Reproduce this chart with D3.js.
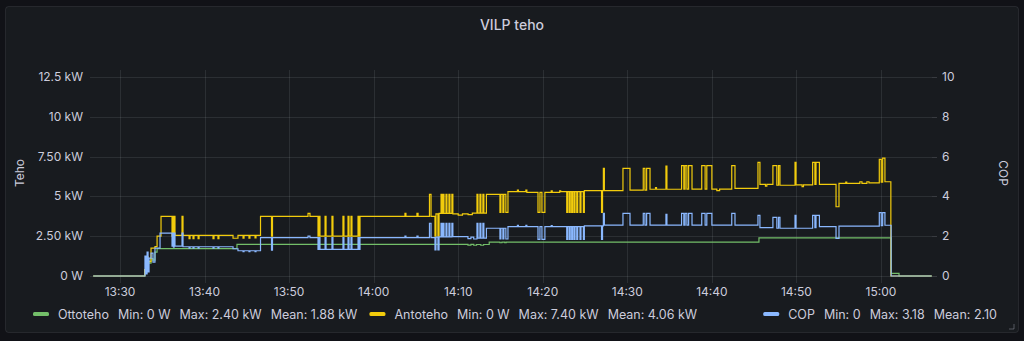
<!DOCTYPE html>
<html>
<head>
<meta charset="utf-8">
<script src="https://cdn.jsdelivr.net/npm/d3@7"></script>
<style>
  html, body { margin: 0; padding: 0; background: #111217; }
  svg { display: block; font-family: Inter, Roboto, "Noto Sans", sans-serif; }
</style>
</head>
<body>
<svg width="1024" height="341"></svg>
<script>
// series: [time, value], values hold until next point
const ottoteho = [
  ["13:26:50",0],
  ["13:32:57",0.3],["13:33:12",0.95],["13:33:26",0.8],["13:33:40",1.1],["13:33:54",1.0],["13:34:08",1.5],["13:34:23",1.72],
  ["13:43:50",1.99],
  ["14:11:09",1.94],["14:11:30",1.99],["14:11:50",1.93],["14:12:10",1.98],["14:12:40",1.93],["14:13:00",1.98],
  ["14:13:40",2.13],
  ["14:14:56",2.09],["14:15:10",2.13],["14:15:30",2.09],["14:15:40",2.13],
  ["14:45:34",2.40],
  ["15:01:12",0.17],
  ["15:02:08",0],
  ["15:06:00",0]
];

const antoteho = [
  ["13:26:50",0],
  ["13:32:55",0.4],["13:33:05",1.2],["13:33:19",0.9],["13:33:40",1.75],["13:34:08",1.85],["13:34:23",2.5],
  ["13:34:51",3.75],
  ["13:36:09",2.5],["13:36:14",3.75],["13:36:19",2.6],["13:36:24",3.75],["13:36:30",2.55],
  ["13:37:20",3.75],["13:37:27",2.55],
  ["13:38:10",2.35],["13:38:17",2.55],["13:38:38",2.35],["13:38:45",2.55],
  ["13:39:14",2.35],["13:39:21",2.55],["13:41:00",2.35],["13:41:07",2.55],
  ["13:41:35",2.35],["13:41:42",2.55],["13:43:22",2.37],["13:43:57",2.55],
  ["13:44:33",2.37],["13:44:40",2.55],["13:45:15",2.37],["13:45:22",2.55],
  ["13:45:58",2.4],["13:46:05",2.55],
  ["13:46:37",3.75],
  ["13:47:55",2.5],["13:48:02",3.75],
  ["13:52:14",3.94],["13:52:28",3.75],
  ["13:53:25",2.5],["13:53:32",3.75],["13:53:39",2.5],
  ["13:54:15",3.75],["13:54:22",2.5],["13:55:04",3.75],["13:55:11",2.5],
  ["13:56:22",3.75],["13:56:29",2.5],["13:56:58",3.75],["13:57:05",2.5],
  ["13:57:19",3.75],["13:57:26",2.5],["13:58:09",3.75],["13:58:16",2.5],
  ["13:58:23",3.75],
  ["14:03:42",3.94],["14:03:49",3.75],["14:05:07",3.94],["14:05:15",3.75],
  ["14:06:36",5.13],["14:06:47",3.75],
  ["14:07:15",2.5],["14:07:22",3.9],["14:07:36",2.5],["14:07:44",3.94],
  ["14:07:58",5.13],["14:08:05",3.94],["14:08:12",5.13],["14:08:19",3.94],
  ["14:08:33",5.13],["14:08:40",3.94],["14:08:54",5.13],["14:09:01",3.94],
  ["14:09:15",5.13],["14:09:22",3.9],
  ["14:10:00",3.82],["14:10:30",3.9],["14:11:10",3.85],["14:11:40",3.95],
  ["14:12:13",5.13],["14:12:20",3.95],["14:12:34",5.13],["14:12:41",3.95],
  ["14:12:55",5.13],["14:13:02",3.95],["14:13:20",5.13],
  ["14:14:56",4.0],["14:15:03",5.13],["14:15:17",4.0],["14:15:24",5.13],["14:15:38",4.0],
  ["14:15:53",5.3],
  ["14:17:00",5.4],["14:17:07",5.3],["14:18:00",5.4],["14:18:07",5.25],
  ["14:19:26",4.0],["14:19:40",5.25],["14:19:54",4.0],["14:20:15",5.25],
  ["14:21:00",5.35],["14:21:07",5.25],["14:22:00",5.35],["14:22:07",5.3],
  ["14:22:50",4.0],["14:22:57",5.3],["14:23:08",4.0],["14:23:15",5.3],
  ["14:23:25",4.0],["14:23:32",5.3],["14:23:42",4.0],["14:23:49",5.3],
  ["14:24:01",4.0],["14:24:08",5.3],["14:24:24",4.0],["14:24:31",5.3],
  ["14:24:48",4.0],["14:24:55",5.36],
  ["14:26:57",4.0],["14:27:04",5.36],["14:27:10",6.76],["14:27:17",5.36],
  ["14:29:29",6.76],["14:30:19",5.4],
  ["14:31:53",6.76],["14:32:05",5.4],["14:32:17",6.76],["14:32:41",5.45],
  ["14:33:20",5.55],["14:33:27",5.45],
  ["14:34:34",6.9],["14:34:41",5.45],
  ["14:36:25",6.93],["14:36:41",5.46],["14:36:50",6.93],["14:37:03",5.46],["14:37:15",6.93],["14:37:39",5.46],
  ["14:38:48",6.93],["14:39:12",5.46],["14:39:24",6.93],["14:40:00",5.46],
  ["14:40:35",5.36],["14:40:55",5.46],
  ["14:42:21",6.93],["14:42:44",5.5],
  ["14:45:27",7.14],["14:45:41",5.76],
  ["14:46:20",5.65],["14:46:30",5.76],
  ["14:47:13",6.93],["14:47:41",5.7],["14:47:53",6.93],["14:48:03",5.7],
  ["14:49:50",7.14],["14:49:57",5.72],
  ["14:50:40",5.62],["14:50:50",5.72],
  ["14:51:55",7.14],["14:52:11",5.76],["14:52:19",7.14],["14:52:43",5.76],
  ["14:54:41",4.35],["14:55:02",5.82],
  ["14:55:50",5.9],["14:55:57",5.82],
  ["14:57:30",5.92],["14:57:45",5.82],["14:58:20",5.92],["14:58:35",5.85],
  ["14:59:48",7.33],["15:00:02",5.9],["15:00:12",7.40],["15:00:28",5.92],
  ["15:01:10",0],
  ["15:06:00",0]
];

const cop = [
  ["13:26:50",0],
  ["13:32:57",1.0],["13:33:05",0.1],["13:33:12",1.2],["13:33:19",0.2],["13:33:26",0.9],["13:33:40",1.15],["13:33:54",0.7],["13:34:08",1.4],["13:34:44",2.15],
  ["13:36:09",1.5],["13:36:14",2.15],["13:36:19",1.45],["13:36:24",2.15],["13:36:30",1.5],
  ["13:37:20",2.15],["13:37:27",1.47],
  ["13:38:10",1.4],["13:38:17",1.47],["13:38:38",1.4],["13:38:45",1.47],
  ["13:39:14",1.4],["13:39:21",1.47],["13:41:00",1.4],["13:41:07",1.47],
  ["13:41:35",1.4],["13:41:42",1.47],
  ["13:43:22",1.37],["13:43:57",1.27],
  ["13:44:33",1.22],["13:44:40",1.27],["13:45:15",1.22],["13:45:22",1.27],
  ["13:45:58",1.22],["13:46:05",1.27],
  ["13:46:37",1.93],
  ["13:47:55",1.3],["13:48:02",1.93],
  ["13:52:14",2.0],["13:52:28",1.93],
  ["13:53:25",1.34],["13:53:32",1.93],["13:53:39",1.34],
  ["13:54:15",1.93],["13:54:22",1.34],["13:55:04",1.93],["13:55:11",1.34],
  ["13:56:22",1.93],["13:56:29",1.34],["13:56:58",1.93],["13:57:05",1.34],
  ["13:57:19",1.93],["13:57:26",1.34],["13:58:09",1.93],["13:58:16",1.34],
  ["13:58:23",1.93],
  ["14:03:42",2.0],["14:03:49",1.93],["14:05:07",2.0],["14:05:15",1.93],
  ["14:06:36",2.65],["14:06:47",1.93],
  ["14:07:15",1.31],["14:07:22",1.95],["14:07:36",1.31],["14:07:44",1.97],
  ["14:07:58",2.65],["14:08:05",1.97],["14:08:12",2.65],["14:08:19",1.97],
  ["14:08:33",2.65],["14:08:40",1.97],["14:08:54",2.65],["14:09:01",1.97],
  ["14:09:15",2.65],["14:09:22",1.98],
  ["14:11:09",1.88],["14:11:30",1.95],["14:11:50",1.86],
  ["14:12:13",2.65],["14:12:20",1.9],["14:12:34",2.65],["14:12:41",1.9],
  ["14:12:55",2.65],["14:13:02",1.9],["14:13:20",2.4],
  ["14:14:56",1.86],["14:15:03",2.4],["14:15:17",1.86],["14:15:24",2.4],["14:15:38",1.86],
  ["14:15:53",2.48],
  ["14:17:00",2.55],["14:17:07",2.48],["14:18:00",2.55],["14:18:07",2.48],
  ["14:19:26",1.84],["14:19:40",2.48],["14:19:54",1.84],["14:20:15",2.48],
  ["14:21:00",2.53],["14:21:07",2.48],
  ["14:22:50",1.84],["14:22:57",2.48],["14:23:08",1.84],["14:23:15",2.48],
  ["14:23:25",1.84],["14:23:32",2.48],["14:23:42",1.84],["14:23:49",2.48],
  ["14:24:01",1.84],["14:24:08",2.48],["14:24:24",1.84],["14:24:31",2.48],
  ["14:24:48",1.84],["14:24:55",2.52],
  ["14:26:57",1.84],["14:27:04",2.52],["14:27:10",3.15],["14:27:17",2.56],
  ["14:29:29",3.15],["14:30:19",2.56],
  ["14:31:53",3.15],["14:32:05",2.56],["14:32:17",3.15],["14:32:41",2.56],
  ["14:34:34",3.1],["14:34:41",2.56],
  ["14:36:25",3.15],["14:36:41",2.56],["14:36:50",3.15],["14:37:03",2.56],["14:37:15",3.15],["14:37:39",2.56],
  ["14:38:48",3.15],["14:39:12",2.56],["14:39:24",3.15],["14:40:00",2.56],
  ["14:42:21",3.15],["14:42:44",2.56],
  ["14:45:27",3.05],["14:45:41",2.43],
  ["14:47:13",2.95],["14:47:41",2.4],["14:47:53",2.95],["14:48:03",2.4],
  ["14:49:50",3.05],["14:49:57",2.4],
  ["14:51:55",3.05],["14:52:11",2.43],["14:52:19",3.05],["14:52:43",2.48],
  ["14:54:41",1.89],["14:55:02",2.51],
  ["14:59:48",3.18],["15:00:02",2.53],["15:00:12",3.18],["15:00:28",2.55],
  ["15:01:12",0],
  ["15:06:00",0]
];

const timeRange = ["13:26:27", "15:06:02"];
const tehoTicks = [0, 2.5, 5, 7.5, 10, 12.5];
const tehoTickLabels = ["0 W", "2.50 kW", "5 kW", "7.50 kW", "10 kW", "12.5 kW"];
const copTicks = [0, 2, 4, 6, 8, 10];

const legendNames = ["Ottoteho", "Antoteho", "COP"];
const legendColors = ["#73BF69", "#F2CC0C", "#8AB8FF"];
const legendStats = [
  ["Min: 0 W", "Max: 2.40 kW", "Mean: 1.88 kW"],
  ["Min: 0 W", "Max: 7.40 kW", "Mean: 4.06 kW"],
  ["Min: 0", "Max: 3.18", "Mean: 2.10"]
];

const parseT = d3.timeParse("%H:%M:%S");
const textCol = "#ccccdc";
const gridCol = "rgba(240,250,255,0.09)";

const svg = d3.select("svg");

// panel
svg.append("rect").attr("x", 5.5).attr("y", 6.5).attr("width", 1013).attr("height", 326)
  .attr("rx", 3).attr("fill", "#181b1f").attr("stroke", "rgba(204,204,220,0.10)");

svg.append("text").attr("x", 512).attr("y", 30).attr("text-anchor", "middle")
  .attr("fill", textCol).attr("font-size", 14).attr("font-weight", 500).text("VILP teho");

const x = d3.scaleTime().domain(timeRange.map(parseT)).range([90, 932]);
const y = d3.scaleLinear().domain([0, 12.5]).range([276, 77]);
const yR = d3.scaleLinear().domain([0, 10]).range([276, 77]);

// grid
const grid = svg.append("g");
grid.selectAll(".hg").data(tehoTicks).enter().append("line")
  .attr("x1", 90).attr("x2", 932)
  .attr("y1", d => Math.round(y(d)) + 0.5).attr("y2", d => Math.round(y(d)) + 0.5)
  .attr("stroke", gridCol);
const xTicks = x.ticks(d3.timeMinute.every(10));
grid.selectAll(".vg").data(xTicks).enter().append("line")
  .attr("x1", d => Math.round(x(d)) + 0.5).attr("x2", d => Math.round(x(d)) + 0.5)
  .attr("y1", 70).attr("y2", 283)
  .attr("stroke", gridCol);

// left axis labels
svg.append("g").selectAll("text").data(tehoTicks).enter().append("text")
  .attr("x", 83).attr("y", d => y(d) + 4).attr("text-anchor", "end")
  .attr("fill", textCol).attr("font-size", 12)
  .text((d, i) => tehoTickLabels[i]);

// right axis
const rAx = svg.append("g");
rAx.selectAll("line").data(copTicks).enter().append("line")
  .attr("x1", 932).attr("x2", 937)
  .attr("y1", d => Math.round(yR(d)) + 0.5).attr("y2", d => Math.round(yR(d)) + 0.5)
  .attr("stroke", "rgba(240,250,255,0.15)");
rAx.selectAll("text").data(copTicks).enter().append("text")
  .attr("x", 942).attr("y", d => yR(d) + 4)
  .attr("fill", textCol).attr("font-size", 12).text(d => d);

// bottom axis labels
const fmt = d3.timeFormat("%H:%M");
svg.append("g").selectAll("text").data(xTicks).enter().append("text")
  .attr("x", d => x(d)).attr("y", 296).attr("text-anchor", "middle")
  .attr("fill", textCol).attr("font-size", 12).text(d => fmt(d));

// axis titles
svg.append("text").attr("transform", "translate(24,173) rotate(-90)")
  .attr("text-anchor", "middle").attr("fill", textCol).attr("font-size", 12).text("Teho");
svg.append("text").attr("transform", "translate(999,173) rotate(90)")
  .attr("text-anchor", "middle").attr("fill", textCol).attr("font-size", 12).text("COP");

// lines
svg.append("clipPath").attr("id", "plot").append("rect")
  .attr("x", 90).attr("y", 60).attr("width", 842).attr("height", 224);
const plot = svg.append("g").attr("clip-path", "url(#plot)");
const series = [
  {data: ottoteho, color: legendColors[0], scale: y},
  {data: antoteho, color: legendColors[1], scale: y},
  {data: cop, color: legendColors[2], scale: yR}
];
series.forEach(s => {
  const line = d3.line().curve(d3.curveStepAfter)
    .x(d => x(parseT(d[0]))).y(d => s.scale(d[1]));
  plot.append("path").attr("d", line(s.data)).attr("fill", "none")
    .attr("stroke", s.color).attr("stroke-width", 1.2);
});

// legend: items laid out left to right, COP item pinned to the right
function legendItem(g, i) {
  let cx = 0;
  g.append("rect").attr("x", cx).attr("y", 312).attr("width", 16).attr("height", 4)
    .attr("rx", 1.5).attr("fill", legendColors[i]);
  cx += 25;
  [legendNames[i]].concat(legendStats[i]).forEach(t => {
    const tx = g.append("text").attr("x", cx).attr("y", 318.5)
      .attr("fill", textCol).attr("font-size", 12.5).text(t);
    cx += tx.node().getComputedTextLength() + 9;
  });
  return cx - 9;
}
const g0 = svg.append("g").attr("transform", "translate(33,0)");
const w0 = legendItem(g0, 0);
const g1 = svg.append("g").attr("transform", `translate(${33 + w0 + 12},0)`);
legendItem(g1, 1);
const g2 = svg.append("g");
const w2 = legendItem(g2, 2);
g2.attr("transform", `translate(${997 - w2},0)`);

// resize handle
svg.append("path").attr("d", "M1014,324 L1014,329 L1009,329").attr("fill", "none")
  .attr("stroke", "rgba(204,204,220,0.35)");
</script>
</body>
</html>
